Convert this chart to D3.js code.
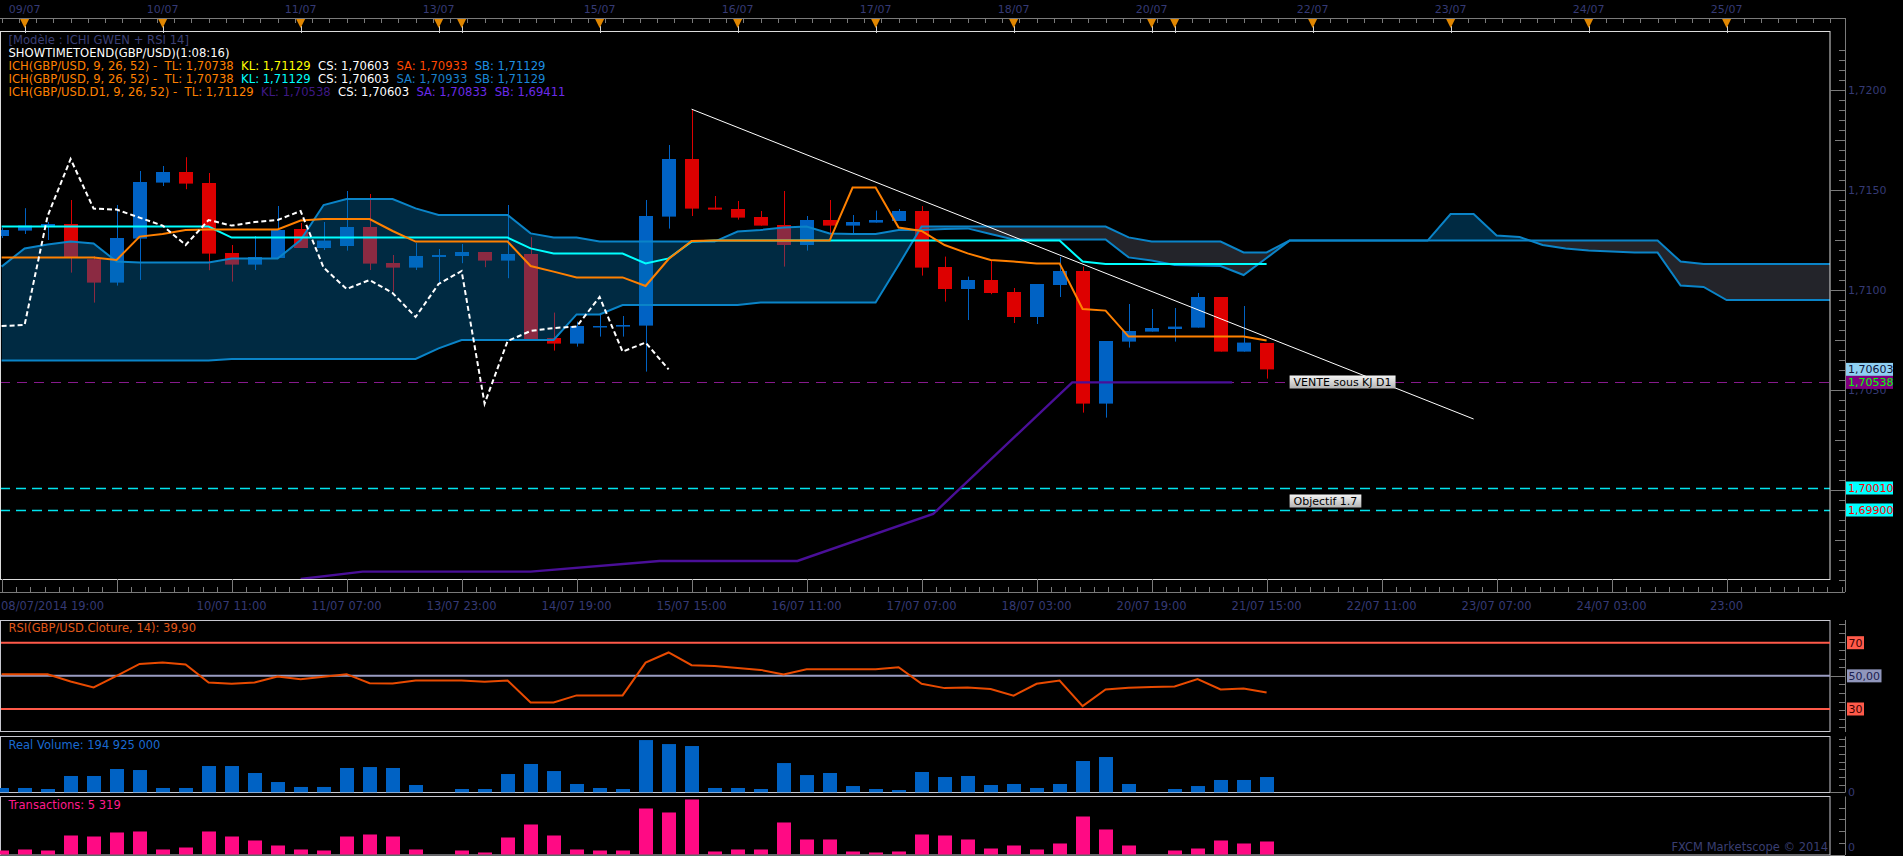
<!DOCTYPE html>
<html>
<head>
<meta charset="utf-8">
<script src="https://cdn.jsdelivr.net/npm/d3@7"></script>
<style>
  body { margin: 0; background: #000; overflow: hidden; }
  svg { display: block; font-family: "DejaVu Sans", Verdana, sans-serif; }
</style>
</head>
<body>
<svg id="chart" width="1903" height="856"></svg>
<script>
/**
 * GBP/USD 4h candles (bar 0 = 08/07/2014 19:00)
 */
const opens  = [1.71270,1.71297,1.71317,1.71330,1.71154,1.71037,1.71257,1.71537,1.71590,1.71535,
                1.71185,1.71127,1.71160,1.71305,1.71210,1.71220,1.71315,1.71135,1.71112,1.71165,
                1.71170,1.71190,1.71147,1.71180,1.70760,1.70732,1.70814,1.70817,1.70822,1.71367,
                1.71655,1.71412,1.71405,1.71365,1.71325,1.71225,1.71350,1.71322,1.71337,1.71345,
                1.71395,1.71115,1.71005,1.71050,1.70990,1.70865,1.71025,1.71095,1.70432,1.70742,
                1.70792,1.70805,1.70812,1.70965,1.70692,1.70735];
const highs  = [1.71310,1.71409,1.71340,1.71450,1.71170,1.71425,1.71595,1.71620,1.71664,1.71585,
                1.71225,1.71270,1.71420,1.71335,1.71340,1.71495,1.71480,1.71175,1.71235,1.71205,
                1.71230,1.71190,1.71425,1.71264,1.70887,1.70842,1.70875,1.70870,1.71450,1.71725,
                1.71904,1.71470,1.71445,1.71395,1.71495,1.71370,1.71450,1.71375,1.71397,1.71405,
                1.71420,1.71167,1.71067,1.71147,1.71010,1.71030,1.71165,1.71117,1.70745,1.70930,
                1.70905,1.70910,1.70985,1.70965,1.70920,1.70735];
const lows   = [1.71260,1.71280,1.71250,1.71087,1.70937,1.71022,1.71050,1.71520,1.71504,1.71099,
                1.71042,1.71100,1.71160,1.71210,1.71200,1.71197,1.71100,1.70992,1.71100,1.71034,
                1.71134,1.71114,1.71059,1.70755,1.70697,1.70717,1.70767,1.70767,1.70592,1.71307,
                1.71370,1.71402,1.71352,1.71322,1.71117,1.71197,1.71250,1.71284,1.71337,1.71345,
                1.71072,1.70942,1.70850,1.70979,1.70835,1.70830,1.70965,1.70387,1.70362,1.70712,
                1.70792,1.70742,1.70812,1.70692,1.70692,1.70557];
const closes = [1.71300,1.71322,1.71330,1.71162,1.71037,1.71260,1.71540,1.71590,1.71532,1.71182,
                1.71127,1.71165,1.71300,1.71210,1.71247,1.71315,1.71132,1.71112,1.71170,1.71175,
                1.71190,1.71147,1.71180,1.70755,1.70732,1.70820,1.70820,1.70825,1.71370,1.71655,
                1.71407,1.71402,1.71362,1.71322,1.71225,1.71350,1.71322,1.71340,1.71350,1.71395,
                1.71112,1.71005,1.71050,1.70985,1.70865,1.71030,1.71095,1.70432,1.70745,1.70795,
                1.70810,1.70817,1.70965,1.70692,1.70737,1.70603];

// ichimoku H4 lines
const tenkan = [1.71162,1.71162,1.71162,1.71162,1.71162,1.71150,1.71267,1.71280,1.71300,1.71303,
                1.71303,1.71303,1.71303,1.71347,1.71355,1.71355,1.71355,1.71295,1.71242,1.71242,
                1.71242,1.71242,1.71242,1.71120,1.71092,1.71063,1.71063,1.71063,1.71020,1.71155,
                1.71245,1.71247,1.71247,1.71247,1.71247,1.71247,1.71247,1.71512,1.71512,1.71312,
                1.71295,1.71225,1.71183,1.71150,1.71142,1.71133,1.71133,1.70905,1.70897,1.70767,
                1.70767,1.70767,1.70767,1.70767,1.70767,1.70747];
const kijun  = [1.71317,1.71317,1.71317,1.71317,1.71317,1.71317,1.71317,1.71317,1.71317,1.71317,
                1.71262,1.71262,1.71262,1.71262,1.71262,1.71262,1.71262,1.71262,1.71262,1.71262,
                1.71262,1.71262,1.71262,1.71208,1.71182,1.71182,1.71182,1.71182,1.71133,1.71158,
                1.71242,1.71247,1.71247,1.71247,1.71247,1.71247,1.71247,1.71247,1.71247,1.71247,
                1.71247,1.71247,1.71247,1.71247,1.71247,1.71247,1.71247,1.71142,1.71130,1.71130,
                1.71130,1.71130,1.71130,1.71130,1.71130,1.71130];
// cloud, already shifted 26 bars forward
const spanA  = [1.71117,1.71208,1.71228,1.71242,1.71233,1.71142,1.71137,1.71137,1.71137,1.71137,
                1.71157,1.71157,1.71157,1.71250,1.71425,1.71455,1.71455,1.71455,1.71408,1.71375,
                1.71375,1.71375,1.71375,1.71283,1.71262,1.71262,1.71242,1.71242,1.71242,1.71242,
                1.71242,1.71242,1.71292,1.71300,1.71312,1.71317,1.71283,1.71280,1.71280,1.71300,
                1.71300,1.71305,1.71308,1.71280,1.71253,1.71253,1.71253,1.71253,1.71253,1.71163,
                1.71147,1.71125,1.71122,1.71120,1.71075,1.71160,1.71247,1.71247,1.71247,1.71247,
                1.71247,1.71247,1.71247,1.71380,1.71380,1.71272,1.71265,1.71225,1.71208,1.71197,
                1.71192,1.71187,1.71187,1.71022,1.71015,1.70950,1.70950,1.70950,1.70950,1.70950,
                1.70950,1.70950];
const spanB  = [1.70647,1.70647,1.70647,1.70647,1.70647,1.70647,1.70647,1.70647,1.70647,1.70647,
                1.70655,1.70655,1.70655,1.70655,1.70655,1.70655,1.70655,1.70655,1.70655,1.70708,
                1.70750,1.70750,1.70750,1.70750,1.70750,1.70878,1.70878,1.70925,1.70925,1.70925,
                1.70925,1.70925,1.70925,1.70937,1.70937,1.70937,1.70937,1.70937,1.70937,1.71125,
                1.71317,1.71317,1.71317,1.71317,1.71317,1.71317,1.71317,1.71317,1.71317,1.71263,
                1.71242,1.71242,1.71242,1.71242,1.71188,1.71188,1.71247,1.71247,1.71247,1.71247,
                1.71247,1.71247,1.71247,1.71247,1.71247,1.71247,1.71247,1.71247,1.71247,1.71247,
                1.71247,1.71247,1.71247,1.71142,1.71130,1.71130,1.71130,1.71130,1.71130,1.71130,
                1.71130,1.71130];

// daily kijun drawn on the 4h chart
const d1Bars  = [13, 15.7, 23, 28.6, 34.6, 40.5, 46.55, 53.5];
const d1Kijun = [1.69555, 1.69592, 1.69592, 1.69645, 1.69645, 1.69880, 1.70538, 1.70538];

// hand drawn objects
const trendBars   = [30, 64];
const trendPrices = [1.71904, 1.70355];
const levelPrices = [1.70538, 1.70010, 1.69900];
const noteTexts   = ["VENTE sous KJ D1", "Objectif 1.7"];
const noteBars    = [56, 56];
const notePrices  = [1.70540, 1.69945];

// lower panels
const rsi    = [51.0,51.0,51.0,46.6,43.0,50.0,57.2,58.0,56.8,46.0,
                45.2,46.0,49.6,48.0,49.4,51.0,45.6,45.4,47.2,47.2,
                47.2,46.4,47.2,33.9,33.9,38.2,38.2,38.2,58.0,64.1,
                56.4,56.0,54.8,53.6,50.8,54.0,54.0,54.0,54.0,55.2,
                45.2,42.6,43.0,42.0,38.0,45.2,47.2,31.7,41.8,42.8,
                43.2,43.6,48.0,41.8,42.4,39.9];
const volume = [55,55,42,208,208,297,284,55,55,335,
                335,246,131,68,68,310,322,310,93,0,
                42,42,233,361,271,106,55,42,666,615,
                590,55,55,42,373,220,246,80,42,29,
                259,195,208,93,106,55,106,399,450,106,
                0,42,80,157,157,195];   // millions
const trades = [1640,2050,1640,7770,7360,9000,9410,2050,2860,9410,
                7360,5730,3680,2050,1640,7360,8180,7360,2050,0,
                1640,820,6950,12270,7770,2050,1640,1640,18810,17180,
                22500,1230,2050,2050,13090,6140,6140,1230,820,1230,
                8180,7770,6140,2450,3680,2050,4500,15540,10230,3680,
                0,1640,2450,5730,4500,5319];

// axes
const timeBars   = [0,5,10,15,20,25,30,35,40,45,50,55,60,65,70,75];
const timeLabels = ["08/07/2014 19:00","09/07 15:00","10/07 11:00","11/07 07:00","13/07 23:00","14/07 19:00",
                    "15/07 15:00","16/07 11:00","17/07 07:00","18/07 03:00","20/07 19:00","21/07 15:00",
                    "22/07 11:00","23/07 07:00","24/07 03:00","23:00"];
const dayBars    = [1,7,13,19,20,26,32,38,44,50,51,57,63,69,75];
const dayLabels  = ["09/07","10/07","11/07","13/07","14/07","15/07","16/07","17/07","18/07","20/07","21/07",
                    "22/07","23/07","24/07","25/07"];
const priceTicks = [1.7050, 1.7100, 1.7150, 1.7200];
const rsiLevels  = [70, 50, 30];

const legendRows = [
    [["[Modèle : ICHI GWEN + RSI 14]", "#3b3f74"]],
    [["SHOWTIMETOEND(GBP/USD)(1:08:16)", "#ffffff"]],
    [["ICH(GBP/USD, 9, 26, 52) -  TL: 1,70738  ", "#ff8000"], ["KL: 1,71129  ", "#ffff00"],
     ["CS: 1,70603  ", "#ffffff"], ["SA: 1,70933  ", "#ff4800"], ["SB: 1,71129", "#1e8fe0"]],
    [["ICH(GBP/USD, 9, 26, 52) -  TL: 1,70738  ", "#ff8000"], ["KL: 1,71129  ", "#00ffff"],
     ["CS: 1,70603  ", "#ffffff"], ["SA: 1,70933  ", "#1a80cc"], ["SB: 1,71129", "#1a88d8"]],
    [["ICH(GBP/USD.D1, 9, 26, 52) -  TL: 1,71129  ", "#ff8000"], ["KL: 1,70538  ", "#3f1a86"],
     ["CS: 1,70603  ", "#ffffff"], ["SA: 1,70833  ", "#6b2bea"], ["SB: 1,69411", "#6b2bea"]]
];


// ---------------------------------------------------------------------------
const svg = d3.select("#chart");
const plotR = 1830, plotT = 31, plotB = 579, axisX = 1845;
const axisCol = "#353a74", frameCol = "#c8c8d0", tickCol = "#7a7a7a";

const x = d3.scaleLinear().domain([0, 80]).range([1.6, 1841.6]);
const y = d3.scaleLinear().domain([1.70, 1.72]).range([490, 90]);
const yRsi = d3.scaleLinear().domain([30, 70]).range([709, 642.7]);
const yVol = d3.scaleLinear().domain([0, 709]).range([792.3, 736.7]);
const yTrd = d3.scaleLinear().domain([0, 23800]).range([854.5, 796.3]);
const fmt = (v, n) => v.toFixed(n).replace(".", ",");
const crisp = v => Math.round(v) + 0.5;

svg.append("rect").attr("width", 1903).attr("height", 856).attr("fill", "#000");

const defs = svg.append("defs");
defs.append("clipPath").attr("id", "mainClip")
    .append("rect").attr("x", 0).attr("y", plotT).attr("width", plotR).attr("height", plotB - plotT);
defs.append("clipPath").attr("id", "aboveB")
    .append("path").attr("d", d3.area().x((d, i) => x(i)).y0(0).y1(d => y(d))(spanB));
defs.append("clipPath").attr("id", "aboveA")
    .append("path").attr("d", d3.area().x((d, i) => x(i)).y0(0).y1(d => y(d))(spanA));
var grad = defs.append("linearGradient").attr("id", "noteGrad").attr("x1", 0).attr("y1", 0).attr("x2", 0).attr("y2", 1);
grad.append("stop").attr("offset", "0%").attr("stop-color", "#f4f4f4");
grad.append("stop").attr("offset", "100%").attr("stop-color", "#b4b4b4");

// ---- top time strip ----
const topStrip = svg.append("g");
topStrip.append("line").attr("x1", 0).attr("x2", axisX).attr("y1", 18.5).attr("y2", 18.5).attr("stroke", tickCol);
topStrip.selectAll(".mt").data(d3.range(0, 107)).join("line")
    .attr("x1", d => crisp(x(d * 0.75))).attr("x2", d => crisp(x(d * 0.75)))
    .attr("y1", 18).attr("y2", 23).attr("stroke", tickCol);
topStrip.selectAll(".dt").data(dayBars).join("line")
    .attr("x1", d => crisp(x(d))).attr("x2", d => crisp(x(d)))
    .attr("y1", 26).attr("y2", 33).attr("stroke", "#d0d0d0");
topStrip.selectAll(".tri").data(dayBars).join("path")
    .attr("d", d => `M${x(d) - 4.5},19 L${x(d) + 4.5},19 L${x(d)},28 Z`)
    .attr("fill", "#e08600");
var lastRight = -100;
dayLabels.forEach((lab, i) => {
    var t = topStrip.append("text").attr("x", x(dayBars[i])).attr("y", 12.5)
        .attr("text-anchor", "middle").attr("font-size", 11).attr("fill", axisCol).text(lab);
    var w = t.node().getComputedTextLength();
    if (x(dayBars[i]) - w / 2 < lastRight + 8) { t.remove(); } else { lastRight = x(dayBars[i]) + w / 2; }
});

// ---- main plot ----
const main = svg.append("g").attr("clip-path", "url(#mainClip)");
const candles = opens.map((o, i) => ({ i: i, o: o, h: highs[i], l: lows[i], c: closes[i] }));
const candleCol = d => d.c >= d.o ? "#0062c4" : "#dd0000";

main.selectAll(".wick").data(candles).join("line")
    .attr("x1", d => crisp(x(d.i))).attr("x2", d => crisp(x(d.i)))
    .attr("y1", d => y(d.h)).attr("y2", d => y(d.l))
    .attr("stroke", candleCol).attr("stroke-width", 1);
main.selectAll(".body").data(candles).join("rect")
    .attr("x", d => Math.round(x(d.i) - 7)).attr("width", 14)
    .attr("y", d => y(Math.max(d.o, d.c)))
    .attr("height", d => Math.max(1.5, Math.abs(y(d.o) - y(d.c))))
    .attr("fill", candleCol);

// cloud fill, drawn over the candles like the platform does
main.append("path")
    .attr("d", d3.area().x((d, i) => x(i)).y0(700).y1(d => y(d))(spanA))
    .attr("clip-path", "url(#aboveB)").attr("fill", "#0071b2").attr("fill-opacity", 0.37);
main.append("path")
    .attr("d", d3.area().x((d, i) => x(i)).y0(700).y1(d => y(d))(spanB))
    .attr("clip-path", "url(#aboveA)").attr("fill", "#5f6272").attr("fill-opacity", 0.37);

const line = d3.line().x((d, i) => x(i)).y(d => y(d));
[spanA, spanB].forEach(s => {
    main.append("path").attr("d", line(s)).attr("fill", "none")
        .attr("stroke", "#0a84c8").attr("stroke-width", 2);
});

// horizontal levels
main.selectAll(".lvl").data(levelPrices).join("line")
    .attr("x1", 0).attr("x2", plotR)
    .attr("y1", d => crisp(y(d))).attr("y2", d => crisp(y(d)))
    .attr("stroke", (d, i) => i == 0 ? "#861a8c" : "#00e4ee")
    .attr("stroke-width", (d, i) => i == 0 ? 1 : 1.6)
    .attr("stroke-dasharray", (d, i) => i == 0 ? "10,7" : "10,6");

main.append("path").attr("d", d3.line().x(d => x(d[0])).y(d => y(d[1]))(d1Bars.map((b, i) => [b, d1Kijun[i]])))
    .attr("fill", "none").attr("stroke", "#4a0f98").attr("stroke-width", 2.4);
main.append("path").attr("d", line(kijun)).attr("fill", "none").attr("stroke", "#00ffff").attr("stroke-width", 2);
main.append("path").attr("d", line(tenkan)).attr("fill", "none").attr("stroke", "#ff8000").attr("stroke-width", 2);

// chikou span: closes moved 26 bars back
main.append("path").attr("d", line(closes.slice(26)))
    .attr("fill", "none").attr("stroke", "#ffffff").attr("stroke-width", 2).attr("stroke-dasharray", "5,3");

main.append("line")
    .attr("x1", x(trendBars[0])).attr("y1", y(trendPrices[0]))
    .attr("x2", x(trendBars[1])).attr("y2", y(trendPrices[1]))
    .attr("stroke", "#ffffff").attr("stroke-width", 1);

noteTexts.forEach((txt, i) => {
    var g = main.append("g");
    var r = g.append("rect").attr("fill", "url(#noteGrad)");
    var t = g.append("text").attr("x", x(noteBars[i]) + 4).attr("y", y(notePrices[i]) + 4)
        .attr("font-size", 11).attr("fill", "#000").text(txt);
    var w = t.node().getComputedTextLength();
    r.attr("x", x(noteBars[i])).attr("y", y(notePrices[i]) - 6.5).attr("width", w + 8).attr("height", 13);
});

// frame
svg.append("rect").attr("x", 0.5).attr("y", plotT + 0.5).attr("width", plotR - 0.5).attr("height", plotB - plotT)
    .attr("fill", "none").attr("stroke", "#dcdcdc");

// legend
legendRows.forEach((row, r) => {
    var t = svg.append("text").attr("x", 8.5).attr("y", 43.5 + r * 13.1)
        .attr("font-size", 11.6).attr("xml:space", "preserve").style("white-space", "pre");
    row.forEach(seg => t.append("tspan").attr("fill", seg[1]).text(seg[0]));
});

// ---- price axis ----
const pax = svg.append("g");
pax.append("line").attr("x1", axisX + 0.5).attr("x2", axisX + 0.5).attr("y1", 18).attr("y2", 592).attr("stroke", tickCol);
pax.selectAll(".pt").data(d3.range(1.6955, 1.7225, 0.0005)).join("line")
    .attr("x1", d => Math.abs(d * 200 - Math.round(d * 200)) < 1e-6 ? plotR : (Math.abs(d * 400 - Math.round(d * 400)) < 1e-6 ? 1835 : 1839))
    .attr("x2", axisX).attr("y1", d => crisp(y(d))).attr("y2", d => crisp(y(d)))
    .attr("stroke", tickCol);
pax.selectAll(".pl").data(priceTicks).join("text")
    .attr("x", 1848).attr("y", d => y(d) + 4).attr("font-size", 11).attr("fill", axisCol)
    .text(d => fmt(d, 4));

const tags = [[closes[closes.length - 1], "#8fd0f2", "#10153a"], [levelPrices[0], "#800080", "#00ff00"],
              [levelPrices[1], "#00ffff", "#ff0000"], [levelPrices[2], "#00ffff", "#ff0000"]];
tags.forEach(tg => {
    pax.append("rect").attr("x", 1846).attr("y", y(tg[0]) - 6.5).attr("width", 47).attr("height", 13).attr("fill", tg[1]);
    pax.append("text").attr("x", 1848).attr("y", y(tg[0]) + 4).attr("font-size", 11).attr("fill", tg[2]).text(fmt(tg[0], 5));
});

// ---- bottom time axis ----
const bax = svg.append("g");
bax.append("line").attr("x1", 0).attr("x2", axisX).attr("y1", 592.5).attr("y2", 592.5).attr("stroke", tickCol);
bax.selectAll(".mn").data(d3.range(0, 129)).join("line")
    .attr("x1", d => crisp(x(d * 5 / 8))).attr("x2", d => crisp(x(d * 5 / 8)))
    .attr("y1", 587).attr("y2", 592).attr("stroke", tickCol);
bax.selectAll(".mj").data(timeBars).join("line")
    .attr("x1", d => crisp(x(d))).attr("x2", d => crisp(x(d)))
    .attr("y1", 579).attr("y2", 592).attr("stroke", tickCol);
lastRight = -100;
timeLabels.forEach((lab, i) => {
    var t = bax.append("text").attr("y", 610).attr("font-size", 11.5).attr("fill", axisCol).text(lab);
    var w = t.node().getComputedTextLength();
    var left = Math.max(1, x(timeBars[i]) - w / 2);
    if (left < lastRight + 8) { t.remove(); return; }
    t.attr("x", left);
    lastRight = left + w;
});

// ---- RSI panel ----
const rp = svg.append("g");
rp.append("rect").attr("x", 0.5).attr("y", 620.5).attr("width", plotR - 0.5).attr("height", 111)
    .attr("fill", "none").attr("stroke", frameCol);
rp.selectAll(".lv").data(rsiLevels).join("line")
    .attr("x1", 1).attr("x2", plotR).attr("y1", d => yRsi(d)).attr("y2", d => yRsi(d))
    .attr("stroke", d => d == 50 ? "#9a9cc2" : "#ff5a4a").attr("stroke-width", 2);
rp.append("path").attr("d", d3.line().x((d, i) => x(i)).y(d => yRsi(d))(rsi))
    .attr("fill", "none").attr("stroke", "#e84a00").attr("stroke-width", 2);
rp.append("text").attr("x", 8.5).attr("y", 632).attr("font-size", 11.5).attr("fill", "#e0581a")
    .text("RSI(GBP/USD.Cloture, 14): " + fmt(rsi[rsi.length - 1], 2));
rp.append("line").attr("x1", axisX + 0.5).attr("x2", axisX + 0.5).attr("y1", 620).attr("y2", 732).attr("stroke", tickCol);
rp.selectAll(".rt").data([18.9, 24.1, 29.3, 34.5, 39.6, 44.8, 50, 55.2, 60.4, 65.5, 70.7, 75.9, 81.1]).join("line")
    .attr("x1", d => d == 50 ? plotR : 1839).attr("x2", axisX)
    .attr("y1", d => crisp(yRsi(d))).attr("y2", d => crisp(yRsi(d)))
    .attr("stroke", tickCol);
rsiLevels.forEach(v => {
    var lab = v == 50 ? fmt(v, 2) : String(v);
    var box = rp.append("rect");
    var t = rp.append("text").attr("x", 1848.5).attr("y", yRsi(v) + 4).attr("font-size", 11)
        .attr("fill", v == 50 ? "#1c2050" : "#3a0000").text(lab);
    var w = t.node().getComputedTextLength();
    box.attr("x", 1847).attr("y", yRsi(v) - 6.5)
        .attr("width", w + 3).attr("height", 13).attr("fill", v == 50 ? "#9096bc" : "#ff5a4a");
});

// ---- volume & transactions ----
const panels = [
    { vals: volume, ys: yVol, top: 736.5, h: 56, col: "#0062c4", label: "Real Volume: 194 925 000", lcol: "#1a6ad0", ticks: d3.range(0, 701, 98) },
    { vals: trades, ys: yTrd, top: 796.5, h: 58.5, col: "#ff0a84", label: "Transactions: " + d3.format(",")(trades[trades.length - 1]).replace(",", " "), lcol: "#ff1a8c", ticks: d3.range(0, 23801, 4790) }
];
panels.forEach(p => {
    var g = svg.append("g");
    g.append("rect").attr("x", 0.5).attr("y", p.top).attr("width", plotR - 0.5).attr("height", p.h)
        .attr("fill", "none").attr("stroke", frameCol);
    g.selectAll(".bar").data(p.vals).join("rect")
        .attr("x", (d, i) => Math.round(x(i) - 7)).attr("width", 14)
        .attr("y", d => p.ys(d)).attr("height", d => p.ys(0) - p.ys(d))
        .attr("fill", p.col);
    g.append("text").attr("x", 8.5).attr("y", p.top + 12).attr("font-size", 11.5).attr("fill", p.lcol).text(p.label);
    g.append("line").attr("x1", axisX + 0.5).attr("x2", axisX + 0.5).attr("y1", p.top).attr("y2", p.top + p.h)
        .attr("stroke", tickCol);
    g.selectAll(".vt").data(p.ticks).join("line")
        .attr("x1", d => d == 0 ? plotR : 1839).attr("x2", axisX)
        .attr("y1", d => crisp(p.ys(d))).attr("y2", d => crisp(p.ys(d)))
        .attr("stroke", tickCol);
    g.append("text").attr("x", 1848).attr("y", Math.min(851, p.ys(0) + 4)).attr("font-size", 11).attr("fill", axisCol).text("0");
});

svg.append("text").attr("x", 1828).attr("y", 851).attr("text-anchor", "end")
    .attr("font-size", 11.5).attr("fill", "#3a3f72").text("FXCM Marketscope © 2014");
</script>
</body>
</html>
